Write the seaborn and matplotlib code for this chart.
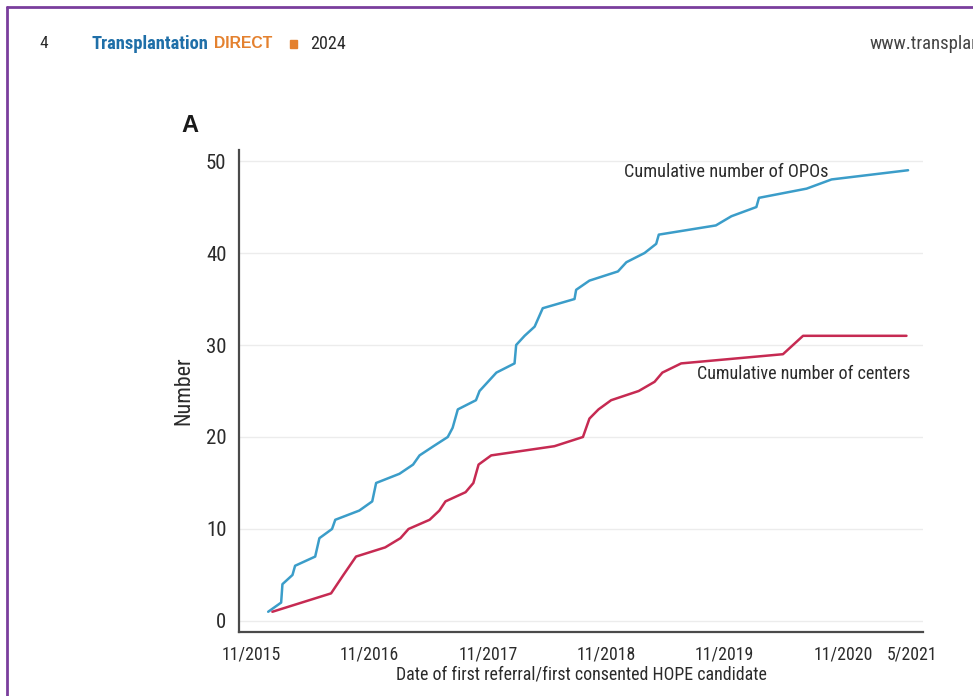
import numpy as np
import pandas as pd
import matplotlib
matplotlib.use("Agg")
import matplotlib.pyplot as plt
from matplotlib.lines import Line2D
from matplotlib.patches import Rectangle
from matplotlib import font_manager
import seaborn as sns

# ---------------- data ----------------
opo_dates = ["2015-12-24", "2016-02-02", "2016-02-06", "2016-03-08", "2016-03-16",
             "2016-05-17", "2016-05-30", "2016-07-08", "2016-07-18", "2016-09-30",
             "2016-11-09", "2016-11-21", "2017-02-01", "2017-03-15", "2017-04-04",
             "2017-05-17", "2017-06-30", "2017-07-15", "2017-07-31", "2017-09-25",
             "2017-10-06", "2017-11-27", "2018-01-22", "2018-01-27", "2018-02-22",
             "2018-03-25", "2018-04-19", "2018-07-26", "2018-07-31", "2018-09-10",
             "2018-12-07", "2019-01-02", "2019-02-27", "2019-04-04", "2019-04-12",
             "2019-10-05", "2019-11-22", "2020-02-07", "2020-02-15", "2020-07-11",
             "2020-09-26", "2021-05-20"]
opo_counts = [1, 2, 4, 5, 6, 7, 9, 10, 11, 12, 13, 15, 16, 17, 18, 19, 20, 21, 23, 24,
              25, 27, 28, 30, 31, 32, 34, 35, 36, 37, 38, 39, 40, 41, 42, 43, 44, 45,
              46, 47, 48, 49]

center_dates = ["2016-01-06", "2016-07-05", "2016-08-12", "2016-09-20", "2016-12-19",
                "2017-02-04", "2017-03-01", "2017-05-05", "2017-06-04", "2017-06-23",
                "2017-08-24", "2017-09-17", "2017-10-03", "2017-11-11", "2018-05-25",
                "2018-08-21", "2018-09-10", "2018-10-08", "2018-11-16", "2019-02-09",
                "2019-03-30", "2019-04-23", "2019-06-20", "2020-04-29", "2020-06-30",
                "2021-05-15"]
center_counts = [1, 3, 5, 7, 8, 9, 10, 11, 12, 13, 14, 15, 17, 18, 19, 20, 22, 23, 24,
                 25, 26, 27, 28, 29, 31, 31]

series_names = ["Cumulative number of OPOs", "Cumulative number of centers"]
xtick_dates = ["2015-11-01", "2016-11-01", "2017-11-01", "2018-11-01",
               "2019-11-01", "2020-11-01", "2021-05-31"]
xtick_labels = ["11/2015", "11/2016", "11/2017", "11/2018", "11/2019", "11/2020", "5/2021"]
ytick_values = [0, 10, 20, 30, 40, 50]

# ---------------- style ----------------
sns.set_theme(style="white")
def has_font(name):
    try:
        font_manager.findfont(font_manager.FontProperties(family=name), fallback_to_default=False)
        return True
    except Exception:
        return False

narrow = None
for cand in ["Roboto Condensed", "Liberation Sans Narrow", "Open Sans Condensed"]:
    if has_font(cand):
        narrow = cand
        break
fam = ([narrow] if narrow else []) + ["Liberation Sans", "DejaVu Sans"]
plt.rcParams["font.family"] = fam
k = 1.0 if narrow else 0.82  # shrink sizes if no condensed face
WIDE = ["Liberation Sans", "DejaVu Sans"]

BLUE = "#3b9dc9"
RED = "#c62a52"
SPINE = "#4a4a4a"
TXT = "#2b2b2b"

df = pd.concat([
    pd.DataFrame({"date": pd.to_datetime(opo_dates), "count": opo_counts, "series": series_names[0]}),
    pd.DataFrame({"date": pd.to_datetime(center_dates), "count": center_counts, "series": series_names[1]}),
], ignore_index=True)

fig = plt.figure(figsize=(9.73, 6.96), dpi=100)
fig.patch.set_facecolor("white")
ax = fig.add_axes([239 / 973, 1 - 632 / 696, (923 - 239) / 973, (632 - 150) / 696])

sns.lineplot(data=df, x="date", y="count", hue="series", hue_order=series_names,
             palette=[BLUE, RED], estimator=None, sort=False, linewidth=1.8,
             legend=False, ax=ax)

ax.set_xlim(pd.Timestamp("2015-09-25"), pd.Timestamp("2021-07-05"))
ax.set_ylim(-1.2, 51.2)
ax.set_xticks(pd.to_datetime(xtick_dates))
ax.set_xticklabels(xtick_labels)
ax.set_yticks(ytick_values)
ax.set_yticklabels([str(v) for v in ytick_values])
ax.tick_params(axis="x", labelsize=12.8 * k, colors=SPINE, labelcolor=TXT,
               direction="out", length=6, width=1.3, pad=4)
ax.tick_params(axis="y", labelsize=15 * k, colors=SPINE, labelcolor=TXT,
               direction="out", length=6, width=1.3, pad=3)
ax.grid(axis="y", color="#ececec", linewidth=1.0)
ax.set_axisbelow(True)
for s in ["top", "right"]:
    ax.spines[s].set_visible(False)
for s in ["left", "bottom"]:
    ax.spines[s].set_color(SPINE)
    ax.spines[s].set_linewidth(1.6)

ax.set_xlabel("Date of first referral/first consented HOPE candidate",
              fontsize=12.9 * k, color=TXT, labelpad=1)
ax.set_ylabel("Number", fontsize=15.8 * k, color=TXT, labelpad=8)

ax.text(pd.Timestamp("2018-12-25"), 48.8, series_names[0], fontsize=13.2 * k,
        color=TXT, va="center", ha="left")
ax.text(pd.Timestamp("2019-08-07"), 26.85, series_names[1], fontsize=13 * k,
        color=TXT, va="center", ha="left")

# ---------------- page furniture ----------------
fig.text(190 / 973, 1 - 125 / 696, "A", fontsize=17, fontweight="bold",
         color="#1a1a1a", ha="center", va="center", family=WIDE)
hy = 1 - 44 / 696
fig.text(39 / 973, hy, "4", fontsize=12.5 * k, color=TXT, va="center")
fig.text(92 / 973, hy, "Transplantation", fontsize=13.3 * k, fontweight="bold",
         color="#1f6fa8", va="center")
fig.text(214 / 973, hy, "DIRECT", fontsize=11.3, fontweight="bold",
         color="#e4812f", va="center", family=WIDE)
fig.patches.append(Rectangle((290 / 973, hy - 4 / 696), 7 / 973, 8 / 696,
                             transform=fig.transFigure, color="#e4812f"))
fig.text(310 / 973, hy, "2024", fontsize=13 * k, color=TXT, va="center")
fig.text(869 / 973, hy, "www.transplantjournal.com", fontsize=13.5 * k, color="#444444",
         va="center")

fig.add_artist(Line2D([7 / 973, 1.0], [1 - 7 / 696, 1 - 7 / 696],
                      transform=fig.transFigure, color="#7a3e9d", linewidth=2))
fig.add_artist(Line2D([7 / 973, 7 / 973], [0, 1 - 7 / 696],
                      transform=fig.transFigure, color="#7a3e9d", linewidth=2))

fig.savefig("out.png", dpi=100, facecolor="white")
